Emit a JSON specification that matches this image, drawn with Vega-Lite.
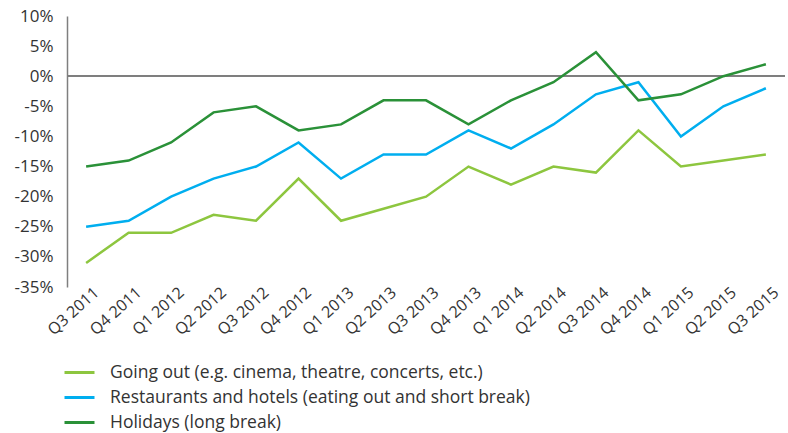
{
  "$schema": "https://vega.github.io/schema/vega-lite/v6.json",
  "width": 718,
  "height": 271,
  "autosize": "none",
  "padding": {"left": 67, "top": 16, "right": 3, "bottom": 146},
  "config": {
    "view": {"stroke": null},
    "font": "Open Sans",
    "axis": {"labelFont": "Open Sans", "labelColor": "#333333", "grid": false, "ticks": false},
    "axisY": {"labelOverlap": false},
    "legend": {"labelFont": "Open Sans"}
  },
  "data": {
    "values": [
      {"q": "Q3 2011", "s": "Going out (e.g. cinema, theatre, concerts, etc.)", "v": -31},
      {"q": "Q4 2011", "s": "Going out (e.g. cinema, theatre, concerts, etc.)", "v": -26},
      {"q": "Q1 2012", "s": "Going out (e.g. cinema, theatre, concerts, etc.)", "v": -26},
      {"q": "Q2 2012", "s": "Going out (e.g. cinema, theatre, concerts, etc.)", "v": -23},
      {"q": "Q3 2012", "s": "Going out (e.g. cinema, theatre, concerts, etc.)", "v": -24},
      {"q": "Q4 2012", "s": "Going out (e.g. cinema, theatre, concerts, etc.)", "v": -17},
      {"q": "Q1 2013", "s": "Going out (e.g. cinema, theatre, concerts, etc.)", "v": -24},
      {"q": "Q2 2013", "s": "Going out (e.g. cinema, theatre, concerts, etc.)", "v": -22},
      {"q": "Q3 2013", "s": "Going out (e.g. cinema, theatre, concerts, etc.)", "v": -20},
      {"q": "Q4 2013", "s": "Going out (e.g. cinema, theatre, concerts, etc.)", "v": -15},
      {"q": "Q1 2014", "s": "Going out (e.g. cinema, theatre, concerts, etc.)", "v": -18},
      {"q": "Q2 2014", "s": "Going out (e.g. cinema, theatre, concerts, etc.)", "v": -15},
      {"q": "Q3 2014", "s": "Going out (e.g. cinema, theatre, concerts, etc.)", "v": -16},
      {"q": "Q4 2014", "s": "Going out (e.g. cinema, theatre, concerts, etc.)", "v": -9},
      {"q": "Q1 2015", "s": "Going out (e.g. cinema, theatre, concerts, etc.)", "v": -15},
      {"q": "Q2 2015", "s": "Going out (e.g. cinema, theatre, concerts, etc.)", "v": -14},
      {"q": "Q3 2015", "s": "Going out (e.g. cinema, theatre, concerts, etc.)", "v": -13},
      {"q": "Q3 2011", "s": "Restaurants and hotels (eating out and short break)", "v": -25},
      {"q": "Q4 2011", "s": "Restaurants and hotels (eating out and short break)", "v": -24},
      {"q": "Q1 2012", "s": "Restaurants and hotels (eating out and short break)", "v": -20},
      {"q": "Q2 2012", "s": "Restaurants and hotels (eating out and short break)", "v": -17},
      {"q": "Q3 2012", "s": "Restaurants and hotels (eating out and short break)", "v": -15},
      {"q": "Q4 2012", "s": "Restaurants and hotels (eating out and short break)", "v": -11},
      {"q": "Q1 2013", "s": "Restaurants and hotels (eating out and short break)", "v": -17},
      {"q": "Q2 2013", "s": "Restaurants and hotels (eating out and short break)", "v": -13},
      {"q": "Q3 2013", "s": "Restaurants and hotels (eating out and short break)", "v": -13},
      {"q": "Q4 2013", "s": "Restaurants and hotels (eating out and short break)", "v": -9},
      {"q": "Q1 2014", "s": "Restaurants and hotels (eating out and short break)", "v": -12},
      {"q": "Q2 2014", "s": "Restaurants and hotels (eating out and short break)", "v": -8},
      {"q": "Q3 2014", "s": "Restaurants and hotels (eating out and short break)", "v": -3},
      {"q": "Q4 2014", "s": "Restaurants and hotels (eating out and short break)", "v": -1},
      {"q": "Q1 2015", "s": "Restaurants and hotels (eating out and short break)", "v": -10},
      {"q": "Q2 2015", "s": "Restaurants and hotels (eating out and short break)", "v": -5},
      {"q": "Q3 2015", "s": "Restaurants and hotels (eating out and short break)", "v": -2},
      {"q": "Q3 2011", "s": "Holidays (long break)", "v": -15},
      {"q": "Q4 2011", "s": "Holidays (long break)", "v": -14},
      {"q": "Q1 2012", "s": "Holidays (long break)", "v": -11},
      {"q": "Q2 2012", "s": "Holidays (long break)", "v": -6},
      {"q": "Q3 2012", "s": "Holidays (long break)", "v": -5},
      {"q": "Q4 2012", "s": "Holidays (long break)", "v": -9},
      {"q": "Q1 2013", "s": "Holidays (long break)", "v": -8},
      {"q": "Q2 2013", "s": "Holidays (long break)", "v": -4},
      {"q": "Q3 2013", "s": "Holidays (long break)", "v": -4},
      {"q": "Q4 2013", "s": "Holidays (long break)", "v": -8},
      {"q": "Q1 2014", "s": "Holidays (long break)", "v": -4},
      {"q": "Q2 2014", "s": "Holidays (long break)", "v": -1},
      {"q": "Q3 2014", "s": "Holidays (long break)", "v": 4},
      {"q": "Q4 2014", "s": "Holidays (long break)", "v": -4},
      {"q": "Q1 2015", "s": "Holidays (long break)", "v": -3},
      {"q": "Q2 2015", "s": "Holidays (long break)", "v": 0},
      {"q": "Q3 2015", "s": "Holidays (long break)", "v": 2}
    ]
  },
  "encoding": {
    "y": {
      "field": "v", "type": "quantitative",
      "scale": {"domain": [-35, 10], "nice": false},
      "axis": {"title": null, "values": [-35, -30, -25, -20, -15, -10, -5, 0, 5, 10], "labelExpr": "datum.value + '%'", "labelFontSize": 17, "labelPadding": 14, "labelOverlap": false, "labelBound": false, "labelFlush": false, "domainColor": "#7f7f7f", "domainWidth": 1.5}
    }
  },
  "layer": [
    {
      "mark": {"type": "rule", "color": "#7f7f7f", "strokeWidth": 1.5},
      "encoding": {"y": {"datum": 0, "type": "quantitative"}}
    },
    {
      "mark": {"type": "line", "strokeWidth": 2.5},
      "encoding": {
        "x": {
          "field": "q", "type": "ordinal", "sort": null,
          "scale": {"type": "point", "padding": 0.45},
          "axis": {"title": null, "labelAngle": -42, "labelAlign": "right", "labelBaseline": "middle", "labelFontSize": 16, "labelPadding": 3, "labelOffset": 10, "domain": false, "labelOverlap": false, "labelBound": false}
        },
        "color": {
          "field": "s", "type": "nominal",
          "scale": {
            "domain": ["Going out (e.g. cinema, theatre, concerts, etc.)", "Restaurants and hotels (eating out and short break)", "Holidays (long break)"],
            "range": ["#8dc63f", "#00aeef", "#2a9138"]
          },
          "legend": {
            "title": null, "orient": "none", "legendX": -4, "legendY": 340,
            "symbolType": "stroke", "symbolSize": 900, "symbolStrokeWidth": 3,
            "labelFontSize": 17.5, "labelColor": "#333333", "labelOffset": 14, "rowPadding": 0, "labelLimit": 500
          }
        }
      }
    }
  ]
}
